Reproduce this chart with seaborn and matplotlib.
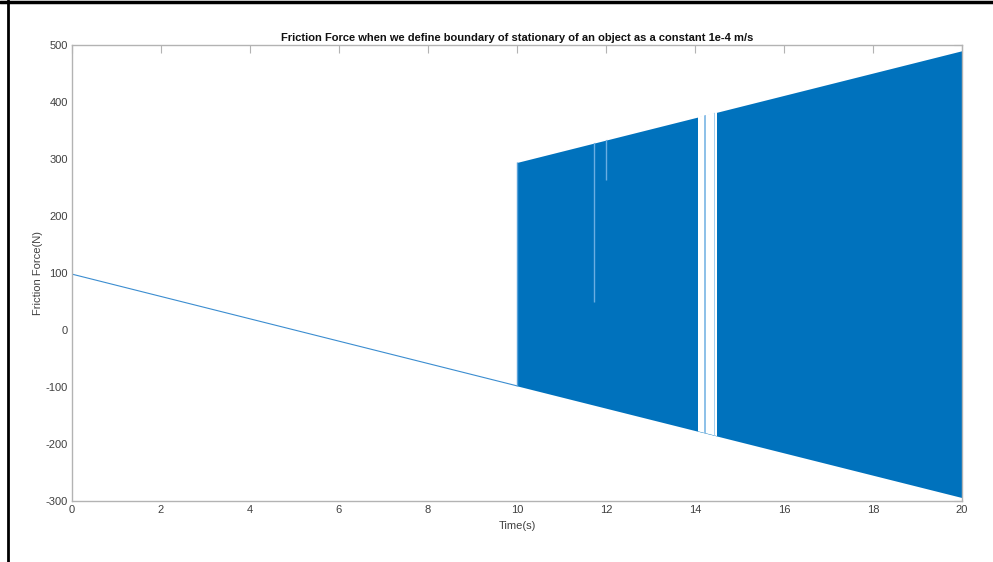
import matplotlib
matplotlib.use("Agg")
import matplotlib.pyplot as plt
import pandas as pd
import seaborn as sns
from matplotlib.lines import Line2D

# Stationary phase: friction follows the applied force
static_t = [0.0, 10.0]
static_f = [98.0, -98.0]

# Sliding phase: force chatters between an upper and a lower bound
slide_t = [10.0, 20.0]
slide_upper = [294.0, 490.0]
slide_lower = [-98.0, -294.0]

# Time window where the chatter pauses
gap_start = [14.07]
gap_end = [14.49]
# Faint traces left inside that window (start, end)
trace_start = [14.20, 14.42]
trace_end = [14.25, 14.44]
trace_color = ["#8fc1e8", "#a9d1ef"]

# Short dropouts inside the band: time and lowest force reached
dropout_t = [11.73, 11.99]
dropout_f = [49.0, 263.0]

x_ticks = [0, 2, 4, 6, 8, 10, 12, 14, 16, 18, 20]
y_ticks = [-300, -200, -100, 0, 100, 200, 300, 400, 500]

BLUE = "#0072BD"
SPINE = "#b3b3b3"
TEXT = "#404040"

sns.set_style("white")
plt.rcParams["font.family"] = ["Liberation Sans", "DejaVu Sans"]

fig = plt.figure(figsize=(9.93, 5.62), dpi=100)
ax = fig.add_axes([72 / 993, 1 - 501 / 562, 890 / 993, 456 / 562])

static_df = pd.DataFrame({"t": static_t, "f": static_f})
sns.lineplot(data=static_df, x="t", y="f", ax=ax, color="#3b8dd0",
             linewidth=0.8, estimator=None, sort=False)

band = ax.fill_between(slide_t, slide_lower, slide_upper, color=BLUE,
                       linewidth=0, zorder=2)
band_path = band.get_paths()[0]

# light edge where the sliding phase begins
ax.vlines(slide_t[0], slide_lower[0], slide_upper[0], color="#5aa2da",
          linewidth=1.0, zorder=3)

for s, e in zip(gap_start, gap_end):
    span = ax.axvspan(s, e, color="white", linewidth=0, zorder=3)
    span.set_clip_path(band_path, ax.transData)

for s, e, c in zip(trace_start, trace_end, trace_color):
    span = ax.axvspan(s, e, color=c, linewidth=0, zorder=4)
    span.set_clip_path(band_path, ax.transData)

for t, f in zip(dropout_t, dropout_f):
    ln = ax.vlines(t, f, max(slide_upper), color="#6aaee2", linewidth=1.0,
                   zorder=4)
    ln.set_clip_path(band_path, ax.transData)

ax.set_xlim(0, 20)
ax.set_ylim(-300, 500)
ax.set_xticks(x_ticks)
ax.set_yticks(y_ticks)
ax.set_xticklabels([str(v) for v in x_ticks])
ax.set_yticklabels([str(v) for v in y_ticks])

ax.tick_params(axis="both", which="both", direction="in", length=6,
               width=0.8, color=SPINE, labelcolor=TEXT, labelsize=8,
               top=True, right=True, pad=3)
for sp in ax.spines.values():
    sp.set_visible(True)
    sp.set_color(SPINE)
    sp.set_linewidth(1.0)
    sp.set_zorder(6)

ax.set_xlabel("Time(s)", fontsize=8, color=TEXT, labelpad=4)
ax.set_ylabel("Friction Force(N)", fontsize=8, color=TEXT, labelpad=2)
ax.set_title("Friction Force when we define boundary of stationary of an object "
             "as a constant 1e-4 m/s", fontsize=8, fontweight="bold",
             color="#111111", pad=3)

# window frame on the left and top edges
fig.add_artist(Line2D([7.5 / 993, 7.5 / 993], [0, 1], color="black",
                      linewidth=2.0, transform=fig.transFigure))
fig.add_artist(Line2D([0, 1], [1 - 1.5 / 562, 1 - 1.5 / 562], color="black",
                      linewidth=2.5, transform=fig.transFigure))

fig.savefig("out.png", dpi=100, facecolor="white")
